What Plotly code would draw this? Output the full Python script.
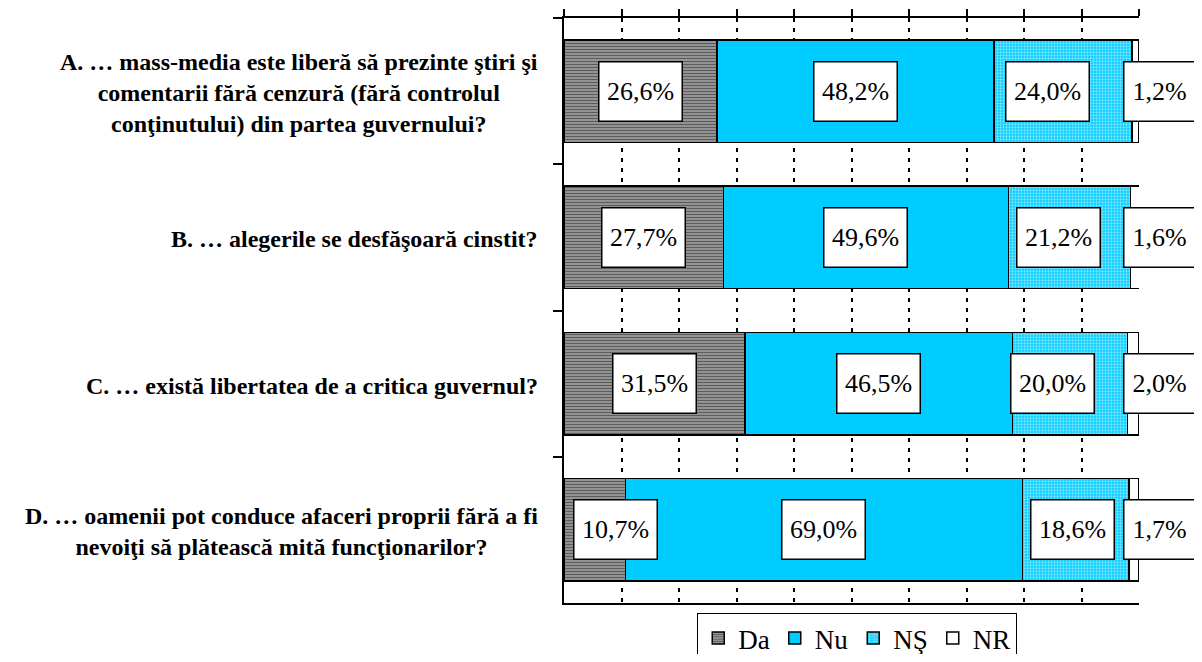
import plotly.graph_objects as go

# survey answers, percent of respondents
questions = [
    "A. … mass-media este liberă să prezinte ştiri şi<br>comentarii fără cenzură (fără controlul<br>conţinutului) din partea guvernului?",
    "B. … alegerile se desfăşoară cinstit?",
    "C. … există libertatea de a critica guvernul?",
    "D. … oamenii pot conduce afaceri proprii fără a fi<br>nevoiţi să plătească mită funcţionarilor?",
]
cats = ["A", "B", "C", "D"]
da = [26.6, 27.7, 31.5, 10.7]
nu = [48.2, 49.6, 46.5, 69.0]
ns = [24.0, 21.2, 20.0, 18.6]
nr = [1.2, 1.6, 2.0, 1.7]

series = [
    ("Da", da, dict(color="white", pattern=dict(shape="-", fgcolor="#000000", bgcolor="#b8b8b8", size=3, solidity=0.6))),
    ("Nu", nu, dict(color="#00CCFF")),
    ("NŞ", ns, dict(color="#00CCFF", pattern=dict(shape=".", fgcolor="white", bgcolor="#00CCFF", size=3, solidity=0.45))),
    ("NR", nr, dict(color="white")),
]

# manual nudges for the value boxes (pixels), as in the original layout
label_shift = {
    "Da": [0, 0, 0, 21],
    "Nu": [0, 0, 0, 0],
    "NŞ": [-16, -11, -18, -3],
}

FONT = "Liberation Serif"

fig = go.Figure()
for name, vals, marker in series:
    fig.add_trace(go.Bar(
        name=name, y=cats, x=vals, orientation="h",
        marker=dict(line=dict(color="black", width=1.5), **marker),
        width=0.7,
    ))


def box(txt, **kw):
    return dict(
        text=txt, showarrow=False,
        font=dict(family=FONT, size=26, color="black"),
        bgcolor="white", bordercolor="black", borderwidth=1.5, borderpad=3,
        width=76 if len(txt) == 5 else 64, height=52, **kw,
    )


annotations = []
start = [0.0] * len(cats)
for name, vals, _ in series:
    for i, v in enumerate(vals):
        txt = f"{v:.1f}%".replace(".", ",")
        if name == "NR":
            # NR values sit outside the bar, right of the plot area
            annotations.append(box(txt, x=1, xref="paper", xanchor="center",
                                   y=cats[i], yref="y", xshift=20))
        else:
            annotations.append(box(txt, x=start[i] + v / 2, xref="x", y=cats[i], yref="y",
                                   xshift=label_shift[name][i]))
        start[i] += v

for c, q in zip(cats, questions):
    annotations.append(dict(
        x=0, xref="paper", y=c, yref="y", text=f"<b>{q}</b>", showarrow=False,
        xanchor="right", xshift=-24, yshift=-2, align="center",
        font=dict(family=FONT, size=24, color="black"),
    ))

# page body keeps its default 8px margin, so the figure is 16px smaller than the window
fig.update_layout(
    barmode="stack",
    width=1186, height=646,
    margin=dict(l=556, r=55, t=10, b=51, autoexpand=False),
    plot_bgcolor="white", paper_bgcolor="white",
    font=dict(family=FONT, color="black"),
    annotations=annotations,
    legend=dict(
        orientation="h", x=0.51, xanchor="center", y=-0.017, yanchor="top",
        font=dict(family=FONT, size=27), bordercolor="black", borderwidth=1,
        itemclick=False, traceorder="normal",
    ),
    xaxis=dict(
        range=[0, 100], dtick=10, side="top", showticklabels=False,
        ticks="outside", ticklen=7, tickwidth=1.5, tickcolor="black",
        showline=True, linecolor="black", linewidth=2, mirror=True,
        showgrid=True, gridcolor="black", gridwidth=2, griddash="4px,6px",
        zeroline=False, fixedrange=True,
    ),
    yaxis=dict(
        autorange="reversed", showticklabels=False,
        ticks="outside", tickson="boundaries", ticklen=9, tickwidth=1.5, tickcolor="black",
        showline=True, linecolor="black", linewidth=2,
        showgrid=False, zeroline=False,
    ),
)

fig.write_html("out.html")
